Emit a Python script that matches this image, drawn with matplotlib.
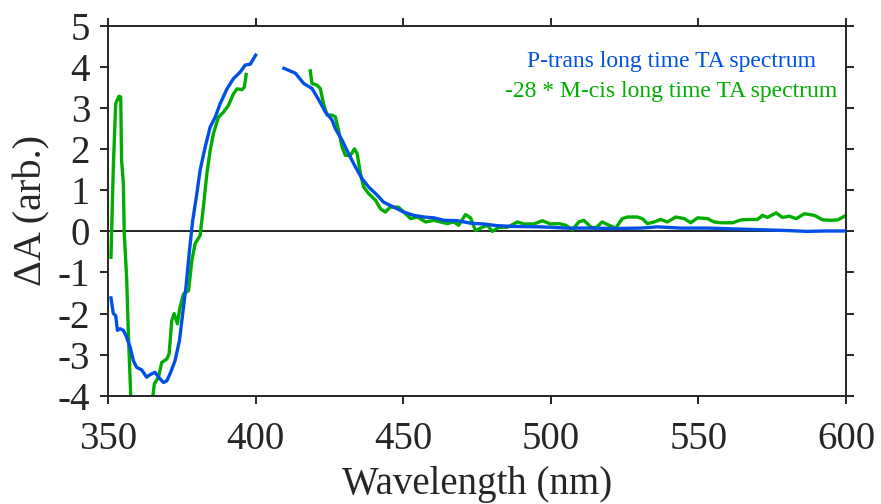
import numpy as np
import matplotlib
matplotlib.use("Agg")
import matplotlib.pyplot as plt

# P-trans long time TA spectrum (blue); NaN marks the gap in the data
blue_wl = [351.0, 351.8, 352.6, 353.2, 354.1, 355.2, 356.1, 357.5, 358.6, 359.7,
           361.4, 363.1, 364.2, 365.9, 367.1, 368.8, 369.9, 371.0, 372.7, 374.2,
           375.3, 376.4, 377.6, 378.7, 380.1, 381.2, 382.9, 384.6, 386.3, 388.0,
           390.3, 392.5, 394.8, 396.5, 398.2, 400.0, 405.0,
           409.6, 413.5, 416.3, 419.1, 421.4, 423.6, 425.9, 427.0, 429.3, 431.5,
           433.8, 436.1, 438.3, 441.2, 443.4, 446.8, 450.2, 453.6, 457.0, 460.4,
           463.8, 468.3, 472.8, 477.3, 481.8, 487.5, 496.5, 505.6, 513.5, 521.4,
           530.5, 536.1, 544.1, 553.1, 562.2, 571.2, 580.2, 587.0, 592.7, 600.0]
blue_dA = [-1.62, -2.00, -2.05, -2.41, -2.37, -2.41, -2.54, -2.82, -3.15, -3.31,
           -3.37, -3.55, -3.49, -3.43, -3.55, -3.68, -3.64, -3.47, -3.15, -2.66,
           -2.00, -1.36, -0.46, 0.27, 0.92, 1.49, 2.05, 2.54, 2.78, 3.11,
           3.47, 3.72, 3.88, 4.05, 4.07, 4.29, np.nan,
           3.97, 3.85, 3.60, 3.48, 3.20, 2.91, 2.71, 2.50, 2.22, 1.89,
           1.57, 1.28, 1.08, 0.88, 0.71, 0.59, 0.47, 0.39, 0.35, 0.33,
           0.27, 0.26, 0.20, 0.18, 0.14, 0.12, 0.11, 0.08, 0.08, 0.07,
           0.08, 0.11, 0.08, 0.08, 0.06, 0.04, 0.02, 0.00, 0.01, 0.01]

# -28 * M-cis long time TA spectrum (green)
green_wl = [351.0, 351.8, 352.6, 353.7, 354.3, 354.6, 355.2, 355.5, 356.3, 356.9,
            357.7, 359.0, 361.5, 364.0, 365.2, 365.7, 367.1, 368.2, 369.9, 370.7,
            371.6, 372.4, 373.5, 374.4, 375.6, 377.3, 378.4, 379.5, 381.2, 382.3,
            383.5, 384.6, 385.7, 387.4, 389.1, 390.8, 392.5, 393.7, 395.4, 396.2,
            396.8, 408.0,
            418.5, 419.1, 420.8, 421.9, 423.0, 424.2, 425.9, 427.0, 428.1, 429.3,
            430.4, 432.1, 433.5, 434.4, 435.5, 436.6, 438.3, 440.6, 442.3, 443.9,
            445.6, 448.4, 450.2, 452.5, 454.8, 457.6, 460.4, 462.6, 464.9, 467.1,
            468.8, 471.1, 472.8, 474.5, 476.8, 478.5, 480.2, 482.4, 485.3, 488.7,
            490.9, 494.3, 497.1, 499.9, 502.8, 505.0, 507.3, 509.5, 511.2, 513.5,
            515.2, 517.4, 519.7, 522.0, 524.2, 525.9, 529.3, 531.0, 532.7, 535.0,
            537.2, 539.5, 542.3, 545.2, 547.4, 549.7, 553.1, 555.3, 557.6, 561.6,
            564.4, 567.8, 570.0, 571.7, 573.4, 576.3, 578.5, 580.8, 583.1, 585.9,
            589.3, 592.1, 594.9, 597.2, 600.0]
green_dA = [-0.63, 1.57, 3.11, 3.29, 3.27, 1.73, 1.17, -0.05, -1.11, -2.49,
            -4.00, -5.50, -6.50, -5.00, -4.00, -3.71, -3.55, -3.19, -3.11, -2.98,
            -2.17, -2.00, -2.25, -1.84, -1.52, -1.44, -0.71, -0.30, -0.10, 0.59,
            1.41, 1.97, 2.38, 2.78, 2.90, 3.07, 3.35, 3.47, 3.45, 3.51,
            3.82, np.nan,
            3.91, 3.60, 3.56, 3.48, 3.11, 2.83, 2.83, 2.79, 2.46, 2.05,
            1.85, 1.85, 2.01, 1.89, 1.41, 1.08, 0.92, 0.76, 0.55, 0.47,
            0.59, 0.59, 0.47, 0.31, 0.35, 0.23, 0.27, 0.23, 0.19, 0.23,
            0.15, 0.41, 0.33, 0.02, 0.10, 0.15, 0.00, 0.10, 0.10, 0.23,
            0.18, 0.18, 0.26, 0.18, 0.19, 0.15, 0.04, 0.23, 0.27, 0.11,
            0.08, 0.23, 0.15, 0.08, 0.31, 0.35, 0.35, 0.31, 0.19, 0.23,
            0.29, 0.23, 0.35, 0.31, 0.21, 0.33, 0.31, 0.23, 0.21, 0.21,
            0.28, 0.29, 0.29, 0.39, 0.34, 0.45, 0.34, 0.37, 0.31, 0.43,
            0.39, 0.28, 0.27, 0.28, 0.39]

labels = ["P-trans long time TA spectrum", "-28 * M-cis long time TA spectrum"]
colors = ["#0050e6", "#00ad00"]
xticks = [350, 400, 450, 500, 550, 600]
yticks = list(range(-4, 6))

plt.rcParams['font.family'] = ['Liberation Serif', 'DejaVu Serif']
plt.rcParams['axes.unicode_minus'] = False
dark = "#262626"

fig = plt.figure(figsize=(8.81, 5.04), dpi=100)
ax = fig.add_axes([0.1226, 0.2149, 0.8377, 0.7335])

ax.axhline(0, color="black", lw=1.2, zorder=1)
ax.plot(green_wl, green_dA, color=colors[1], lw=2.4, zorder=2)
ax.plot(blue_wl, blue_dA, color=colors[0], lw=2.4, zorder=3)

ax.set_xlim(350, 600)
ax.set_ylim(-4, 5)
ax.set_xticks(xticks)
ax.set_yticks(yticks)
ax.tick_params(axis="both", direction="out", length=6, width=1.4, colors=dark,
               labelsize=28, top=True, right=True)
ax.tick_params(axis="x", pad=12)
ax.tick_params(axis="y", pad=7)
for s in ax.spines.values():
    s.set_linewidth(1.4)
    s.set_color(dark)

ax.set_xlabel("Wavelength (nm)", fontsize=28, color=dark, labelpad=6)
ax.set_ylabel("ΔA (arb.)", fontsize=29, color=dark, labelpad=5)

ax.text(0.763, 0.905, labels[0], color=colors[0], fontsize=17,
        ha="center", va="center", transform=ax.transAxes)
ax.text(0.763, 0.822, labels[1], color=colors[1], fontsize=17,
        ha="center", va="center", transform=ax.transAxes)

fig.savefig("out.png", dpi=100)
